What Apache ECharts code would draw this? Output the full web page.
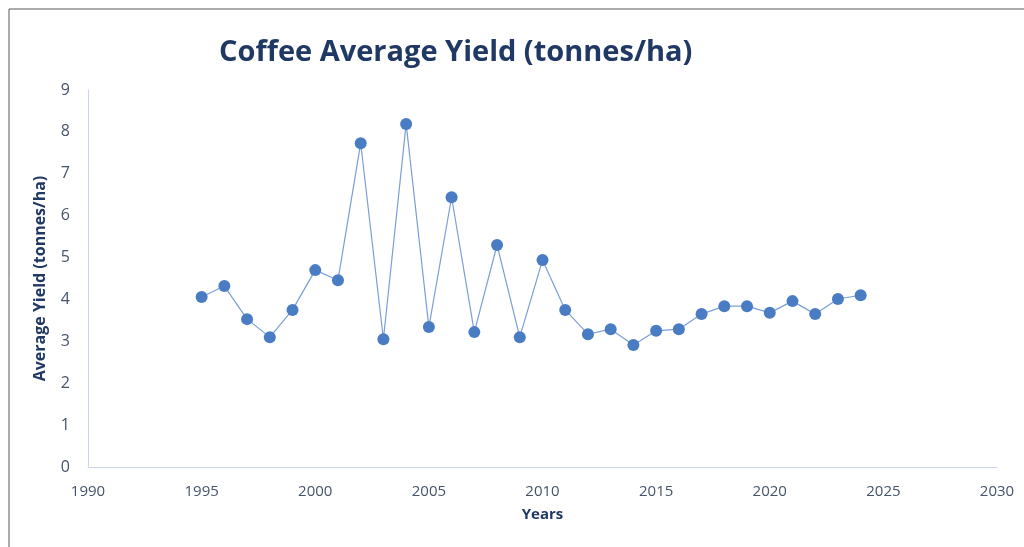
<!DOCTYPE html>
<html>
<head>
<meta charset="utf-8">
<script src="https://cdn.jsdelivr.net/npm/echarts@6/dist/echarts.min.js"></script>
<style>
html, body { margin: 0; padding: 0; background: #fff; }
#main { width: 1024px; height: 547px; }
</style>
</head>
<body>
<div id="main"></div>
<script>
var years = [1995, 1996, 1997, 1998, 1999, 2000, 2001, 2002, 2003, 2004,
    2005, 2006, 2007, 2008, 2009, 2010, 2011, 2012, 2013, 2014,
    2015, 2016, 2017, 2018, 2019, 2020, 2021, 2022, 2023, 2024]
var yieldValues = [4.06, 4.32, 3.53, 3.10, 3.75, 4.70, 4.46, 7.73, 3.05, 8.19,
    3.34, 6.44, 3.22, 5.30, 3.10, 4.94, 3.75, 3.17, 3.29, 2.91,
    3.25, 3.29, 3.65, 3.84, 3.84, 3.68, 3.96, 3.65, 4.01, 4.10]

var myChart = echarts.init(document.getElementById('main'))

var points = []
for (i = 0; i < years.length; i++) {
    points.push([years[i], yieldValues[i]])
}

var labelColor = '#44546A'
var titleColor = '#1F3864'

option = {
    animation: false,
    title: {
        text: 'Coffee Average Yield (tonnes/ha)',
        left: 214,
        top: 33,
        textStyle: {
            color: titleColor,
            fontFamily: 'Open Sans',
            fontWeight: 'bold',
            fontSize: 29
        }
    },
    graphic: [{
        type: 'rect',
        shape: { x: 9, y: 9, width: 1030, height: 560 },
        style: { fill: null, stroke: '#595959', lineWidth: 1 }
    }],
    grid: {
        left: 88,
        right: 27,
        top: 90,
        bottom: 80
    },
    xAxis: {
        type: 'value',
        min: 1990,
        max: 2030,
        interval: 5,
        name: 'Years',
        nameLocation: 'middle',
        nameGap: 40,
        nameTextStyle: {
            color: titleColor,
            fontFamily: 'Open Sans',
            fontWeight: 'bold',
            fontSize: 15
        },
        axisLine: { lineStyle: { color: '#C9D5EA', width: 1 } },
        axisTick: { show: false },
        splitLine: { show: false },
        axisLabel: {
            color: labelColor,
            fontFamily: 'Open Sans',
            fontSize: 15,
            margin: 17,
            formatter: function (v) { return String(v) }
        }
    },
    yAxis: {
        type: 'value',
        min: 0,
        max: 9,
        interval: 1,
        name: 'Average Yield (tonnes/ha)',
        nameLocation: 'middle',
        nameGap: 40,
        nameTextStyle: {
            color: titleColor,
            fontFamily: 'Open Sans',
            fontWeight: 'bold',
            fontSize: 16
        },
        axisLine: { show: true, lineStyle: { color: '#C9D5EA', width: 1 } },
        axisTick: { show: false },
        splitLine: { show: false },
        axisLabel: {
            color: labelColor,
            fontFamily: 'Open Sans',
            fontSize: 16,
            margin: 18
        }
    },
    series: [{
        name: 'Average Yield',
        type: 'line',
        data: points,
        symbol: 'circle',
        symbolSize: 12,
        lineStyle: { color: '#7A9ED6', width: 1.2 },
        itemStyle: { color: '#4A7CC4' }
    }]
}
myChart.setOption(option)
</script>
</body>
</html>
